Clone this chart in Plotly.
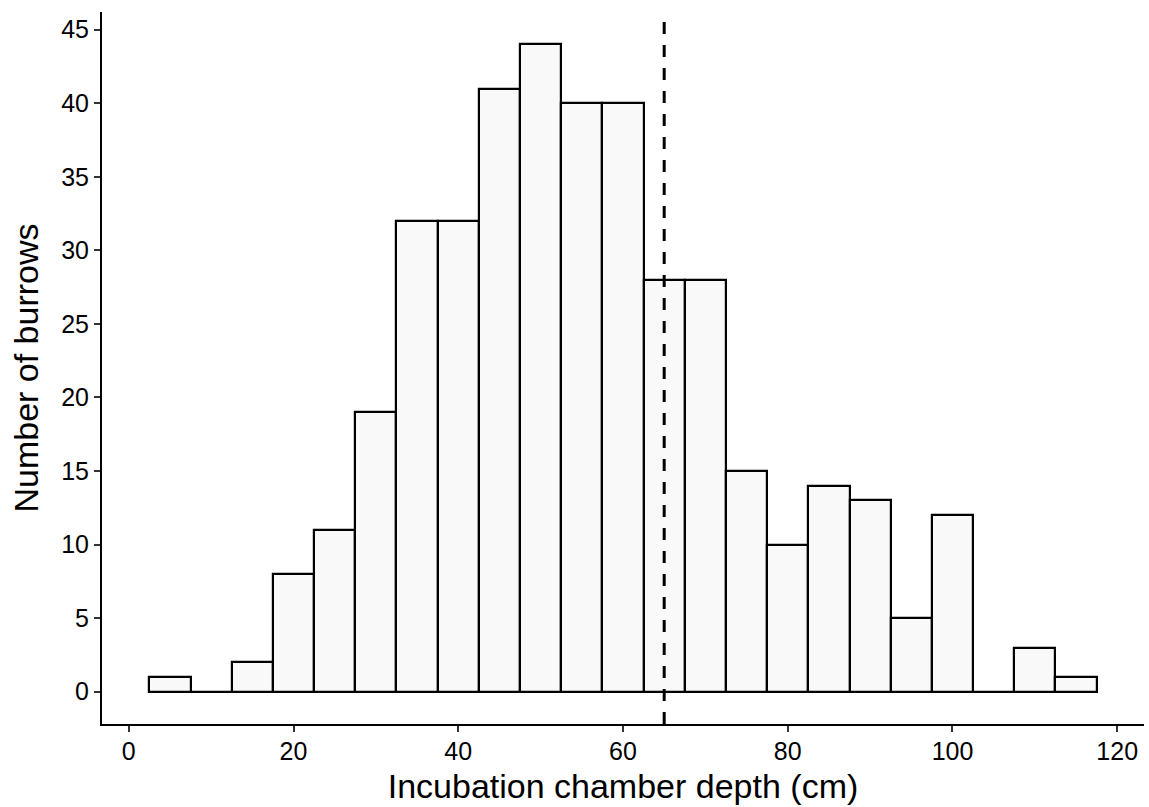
import plotly.graph_objects as go

# histogram bins (width 5 cm), bin centres and counts
bin_centres = [5, 10, 15, 20, 25, 30, 35, 40, 45, 50, 55, 60,
               65, 70, 75, 80, 85, 90, 95, 100, 105, 110, 115]
counts = [1, 0, 2, 8, 11, 19, 32, 32, 41, 44, 40, 40,
          28, 28, 15, 10, 14, 13, 5, 12, 0, 3, 1]
bin_width = 5
mean_depth = 65

x_ticks = [0, 20, 40, 60, 80, 100, 120]
y_ticks = [0, 5, 10, 15, 20, 25, 30, 35, 40, 45]

font_family = "Liberation Sans, Arial, sans-serif"

fig = go.Figure()
fig.add_trace(go.Bar(
    x=bin_centres,
    y=counts,
    width=[bin_width] * len(counts),
    marker=dict(color="#f9f9f9", line=dict(color="black", width=2.2)),
    showlegend=False,
))

fig.add_shape(
    type="line", x0=mean_depth, x1=mean_depth, y0=0, y1=1,
    xref="x", yref="paper",
    line=dict(color="black", width=3, dash="12px,11px"),
)

axis_common = dict(
    showgrid=False,
    zeroline=False,
    showline=True,
    linecolor="black",
    linewidth=2,
    ticks="outside",
    ticklen=6,
    tickwidth=1.5,
    tickcolor="#333333",
    tickfont=dict(family=font_family, size=25, color="black"),
    title_font=dict(family=font_family, size=34, color="black"),
)

fig.update_xaxes(
    range=[-3.25, 123.25],
    tickvals=x_ticks,
    ticklabelstandoff=-2,
    title_text="Incubation chamber depth (cm)",
    title_standoff=10,
    **axis_common,
)
fig.update_yaxes(
    range=[-2.2, 46.2],
    tickvals=y_ticks,
    title_text="Number of burrows",
    title_standoff=12,
    **axis_common,
)

fig.update_layout(
    width=1149,
    height=807,
    margin=dict(l=102, r=5, t=12, b=83),
    paper_bgcolor="white",
    plot_bgcolor="white",
    bargap=0,
)

# drop the page margin so the figure sits at the window's corner
fig.write_html("out.html", config=dict(displayModeBar=False),
               post_script="document.body.style.margin='0';")
